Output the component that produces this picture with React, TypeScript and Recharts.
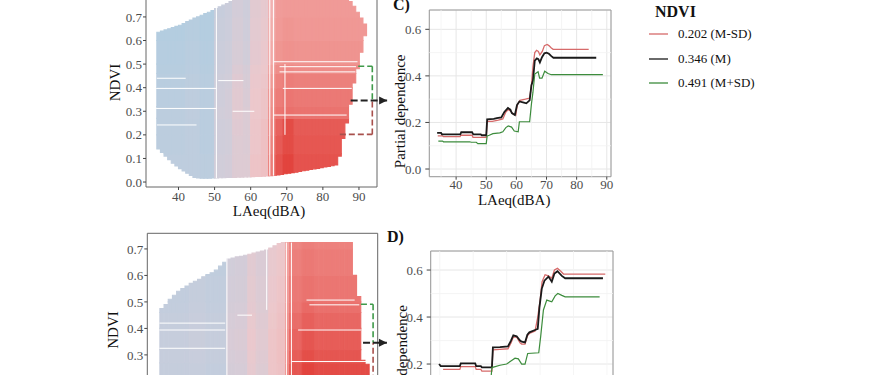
import {
  ComposedChart,
  Bar,
  Cell,
  Line,
  XAxis,
  YAxis,
  CartesianGrid,
  ReferenceLine,
  ReferenceArea,
  ReferenceDot,
  Legend,
  Label,
} from 'recharts'

const FONT = '"Liberation Serif", "Times New Roman", serif'

// NDVI levels used for the three partial dependence curves
const ndviLevels = [0.202, 0.346, 0.491]
const levelNames = ['0.202 (M-SD)', '0.346 (M)', '0.491 (M+SD)']
const levelColors = ['#d66a6a', '#1a1a1a', '#3c8c3c']

// ---------- upper 2D partial dependence map ----------
const colsA = [34, 35, 36, 37, 38, 39, 40, 41, 42, 43, 44, 45, 46, 47, 48, 49, 50, 51, 52, 53, 54, 55, 56, 57, 58, 59, 60, 61, 62, 63, 64, 65, 66, 67, 68, 69, 70, 71, 72, 73, 74, 75, 76, 77, 78, 79, 80, 81, 82, 83, 84, 85, 86, 87, 88, 89, 90, 91]
const yminA = [0.14, 0.125, 0.11, 0.095, 0.08, 0.068, 0.057, 0.047, 0.037, 0.028, 0.02, 0.017, 0.016, 0.016, 0.016, 0.017, 0.017, 0.018, 0.018, 0.019, 0.02, 0.02, 0.021, 0.021, 0.022, 0.022, 0.023, 0.024, 0.024, 0.025, 0.026, 0.027, 0.028, 0.03, 0.032, 0.035, 0.037, 0.04, 0.042, 0.045, 0.048, 0.05, 0.053, 0.056, 0.058, 0.061, 0.064, 0.066, 0.069, 0.072, 0.11, 0.185, 0.25, 0.33, 0.42, 0.48, 0.55, 0.62]
const ymaxA = [0.635, 0.64, 0.645, 0.65, 0.655, 0.66, 0.665, 0.672, 0.68, 0.687, 0.695, 0.7, 0.707, 0.714, 0.72, 0.727, 0.735, 0.743, 0.75, 0.757, 0.765, 0.772, 0.78, 0.787, 0.795, 0.8, 0.805, 0.81, 0.815, 0.818, 0.82, 0.82, 0.82, 0.82, 0.82, 0.82, 0.82, 0.82, 0.82, 0.82, 0.82, 0.82, 0.82, 0.82, 0.82, 0.82, 0.82, 0.815, 0.81, 0.805, 0.8, 0.79, 0.78, 0.765, 0.745, 0.72, 0.695, 0.67]
const laeqSegA = [34, 42, 46, 50.5, 53, 55.5, 58, 60.5, 63, 65.5, 67, 69, 72, 80, 92]
// rows: NDVI bands low -> high, columns: LAeq segments
const pdGridA = [
  [0.15, 0.15, 0.145, 0.21, 0.215, 0.24, 0.24, 0.29, 0.3, 0.46, 0.52, 0.54, 0.52, 0.52],
  [0.145, 0.15, 0.14, 0.205, 0.21, 0.24, 0.235, 0.285, 0.3, 0.45, 0.51, 0.53, 0.515, 0.515],
  [0.145, 0.15, 0.14, 0.205, 0.21, 0.245, 0.235, 0.285, 0.3, 0.44, 0.5, 0.53, 0.51, 0.51],
  [0.145, 0.155, 0.14, 0.21, 0.215, 0.25, 0.235, 0.28, 0.29, 0.43, 0.47, 0.48, 0.475, 0.475],
  [0.14, 0.15, 0.14, 0.205, 0.215, 0.25, 0.23, 0.28, 0.29, 0.42, 0.46, 0.47, 0.465, 0.465],
  [0.135, 0.145, 0.135, 0.2, 0.21, 0.245, 0.225, 0.275, 0.285, 0.4, 0.45, 0.46, 0.455, 0.455],
  [0.13, 0.14, 0.13, 0.195, 0.205, 0.235, 0.22, 0.27, 0.28, 0.38, 0.43, 0.44, 0.435, 0.435],
  [0.125, 0.135, 0.125, 0.19, 0.2, 0.225, 0.21, 0.26, 0.275, 0.36, 0.41, 0.42, 0.415, 0.415],
  [0.12, 0.13, 0.12, 0.185, 0.195, 0.22, 0.205, 0.255, 0.27, 0.35, 0.4, 0.41, 0.405, 0.405],
  [0.115, 0.125, 0.115, 0.18, 0.19, 0.215, 0.2, 0.25, 0.265, 0.34, 0.395, 0.4, 0.4, 0.4],
]
// white contour pieces [x1, y1, x2, y2]
const contoursA = [
  [50.5, 0.017, 50.5, 0.86], [65.3, 0.027, 65.3, 0.86], [66.3, 0.027, 66.3, 0.86],
  [33.8, 0.397, 50.5, 0.397], [33.8, 0.312, 50.5, 0.312], [34, 0.242, 45, 0.242],
  [34, 0.44, 42, 0.44], [66.3, 0.51, 89.6, 0.51], [68, 0.489, 89.2, 0.489],
  [68, 0.467, 89, 0.467], [68.9, 0.397, 88, 0.397], [66.3, 0.284, 86.6, 0.284],
  [51, 0.43, 58, 0.43], [55, 0.3, 61, 0.3], [69.5, 0.2, 69.5, 0.5],
]

// ---------- lower 2D partial dependence map ----------
const colsB = [35, 36, 37, 38, 39, 40, 41, 42, 43, 44, 45, 46, 47, 48, 49, 50, 51, 52, 53, 54, 55, 56, 57, 58, 59, 60, 61, 62, 63, 64, 65, 66, 67, 68, 69, 70, 71, 72, 73, 74, 75, 76, 77, 78, 79, 80, 81, 82, 83, 84]
const yminB = [0.2, 0.17, 0.15, 0.13, 0.115, 0.1, 0.09, 0.085, 0.08, 0.078, 0.076, 0.075, 0.075, 0.075, 0.075, 0.076, 0.077, 0.078, 0.079, 0.08, 0.081, 0.082, 0.083, 0.084, 0.085, 0.086, 0.088, 0.09, 0.092, 0.094, 0.096, 0.098, 0.1, 0.102, 0.104, 0.106, 0.108, 0.11, 0.112, 0.114, 0.116, 0.118, 0.12, 0.122, 0.124, 0.126, 0.13, 0.14, 0.15, 0.16]
const ymaxB = [0.475, 0.49, 0.51, 0.525, 0.54, 0.55, 0.56, 0.57, 0.578, 0.585, 0.595, 0.603, 0.61, 0.62, 0.635, 0.65, 0.662, 0.666, 0.67, 0.672, 0.676, 0.68, 0.684, 0.688, 0.692, 0.696, 0.703, 0.712, 0.72, 0.724, 0.724, 0.724, 0.724, 0.724, 0.724, 0.724, 0.724, 0.724, 0.724, 0.724, 0.724, 0.724, 0.724, 0.724, 0.724, 0.724, 0.6, 0.52, 0.28, 0.265]
const laeqSegB = [35, 42, 46, 51, 53.5, 56, 58.5, 61, 63.5, 65.5, 66.5, 69, 72, 78, 85]
const pdGridB = [
  [0.2, 0.205, 0.195, 0.25, 0.255, 0.3, 0.28, 0.33, 0.34, 0.5, 0.58, 0.6, 0.59, 0.59],
  [0.2, 0.205, 0.195, 0.25, 0.255, 0.3, 0.28, 0.33, 0.34, 0.5, 0.58, 0.6, 0.59, 0.59],
  [0.205, 0.21, 0.2, 0.255, 0.26, 0.305, 0.28, 0.33, 0.34, 0.49, 0.575, 0.6, 0.59, 0.59],
  [0.21, 0.215, 0.205, 0.26, 0.265, 0.31, 0.285, 0.33, 0.345, 0.48, 0.565, 0.585, 0.575, 0.575],
  [0.21, 0.22, 0.21, 0.265, 0.27, 0.315, 0.29, 0.33, 0.345, 0.47, 0.555, 0.575, 0.565, 0.565],
  [0.205, 0.215, 0.205, 0.26, 0.265, 0.31, 0.285, 0.325, 0.34, 0.46, 0.54, 0.56, 0.55, 0.55],
  [0.2, 0.21, 0.2, 0.255, 0.26, 0.3, 0.28, 0.32, 0.335, 0.45, 0.525, 0.545, 0.535, 0.535],
  [0.195, 0.205, 0.195, 0.25, 0.255, 0.295, 0.275, 0.315, 0.33, 0.44, 0.52, 0.53, 0.525, 0.525],
  [0.19, 0.2, 0.19, 0.245, 0.25, 0.29, 0.27, 0.31, 0.325, 0.43, 0.51, 0.52, 0.515, 0.515],
  [0.185, 0.195, 0.185, 0.24, 0.245, 0.285, 0.265, 0.305, 0.32, 0.42, 0.5, 0.51, 0.505, 0.505],
]
const contoursB = [
  [51, 0.1, 51, 0.665], [66.4, 0.1, 66.4, 0.724], [65.2, 0.1, 65.2, 0.724],
  [60.5, 0.47, 60.5, 0.7], [70.7, 0.489, 82.6, 0.489], [70, 0.507, 81.5, 0.507],
  [34.9, 0.42, 50.6, 0.42], [34.9, 0.394, 50.6, 0.394], [34.9, 0.325, 50.6, 0.325],
  [68, 0.394, 83, 0.394], [66.4, 0.275, 84.3, 0.275], [53.5, 0.45, 57, 0.45],
]

// NDVI band edges shared by both maps
const ndviBands = [0, 0.12, 0.2, 0.27, 0.32, 0.4, 0.46, 0.5, 0.6, 0.7, 0.9]

// ---------- panel C curves ----------
const cLowX = [33.9, 35.5, 35.8, 41.3, 41.6, 45.3, 45.6, 50.0, 50.3, 52.0, 54.0, 55.5, 56.5, 57.3, 58.0, 59.0, 59.8, 60.3, 61.2, 63.0, 64.4, 65.0, 65.5, 66.1, 66.7, 67.3, 67.8, 68.6, 69.3, 70.2, 70.8, 71.6, 72.2, 84.0]
const cLowPd = [0.142, 0.142, 0.139, 0.139, 0.145, 0.145, 0.136, 0.136, 0.205, 0.205, 0.21, 0.215, 0.245, 0.255, 0.25, 0.235, 0.232, 0.275, 0.295, 0.3, 0.305, 0.36, 0.44, 0.5, 0.51, 0.505, 0.49, 0.505, 0.53, 0.535, 0.53, 0.52, 0.514, 0.514]
const cMeanX = [33.7, 35.0, 35.3, 41.4, 41.7, 45.3, 45.7, 48.2, 48.5, 50.0, 50.3, 52.5, 53.5, 55.0, 56.0, 57.2, 58.0, 58.5, 59.5, 60.2, 61.0, 62.5, 63.3, 64.4, 65.0, 65.5, 66.1, 66.8, 67.3, 67.8, 68.5, 69.3, 70.0, 70.8, 71.6, 72.3, 86.5]
const cMeanPd = [0.155, 0.155, 0.149, 0.149, 0.158, 0.158, 0.149, 0.149, 0.145, 0.145, 0.213, 0.215, 0.219, 0.222, 0.245, 0.262, 0.255, 0.24, 0.232, 0.275, 0.29, 0.285, 0.282, 0.295, 0.36, 0.38, 0.465, 0.475, 0.472, 0.458, 0.48, 0.497, 0.5, 0.495, 0.485, 0.478, 0.478]
const cHighX = [34.1, 35.5, 35.8, 44.5, 45.0, 46.7, 47.2, 50.0, 50.3, 51.0, 52.2, 54.5, 55.5, 56.5, 57.3, 58.4, 59.3, 60.6, 61.0, 64.4, 65.0, 65.5, 66.1, 67.2, 67.7, 68.5, 69.4, 70.5, 71.6, 88.7]
const cHighPd = [0.12, 0.12, 0.117, 0.117, 0.115, 0.115, 0.109, 0.109, 0.142, 0.145, 0.152, 0.155, 0.16, 0.178, 0.185, 0.18, 0.163, 0.16, 0.203, 0.203, 0.28, 0.33, 0.408, 0.418, 0.39, 0.39, 0.42, 0.41, 0.405, 0.405]

// ---------- panel D curves ----------
const dLowX = [36.0, 41.0, 41.3, 45.6, 45.9, 47.3, 47.6, 50.6, 50.9, 53.0, 55.4, 56.3, 57.0, 58.0, 59.0, 59.5, 60.5, 61.2, 61.8, 63.5, 64.3, 65.0, 65.6, 66.5, 67.5, 68.5, 69.3, 70.2, 71.2, 72.0, 84.5]
const dLowPd = [0.177, 0.177, 0.189, 0.189, 0.177, 0.177, 0.17, 0.17, 0.26, 0.262, 0.265, 0.29, 0.315, 0.315, 0.29, 0.285, 0.285, 0.32, 0.33, 0.34, 0.4, 0.47, 0.55, 0.58, 0.575, 0.565, 0.6, 0.607, 0.595, 0.583, 0.583]
const dMeanX = [34.8, 35.3, 41.0, 41.3, 45.6, 45.9, 47.3, 47.6, 50.6, 50.9, 53.0, 55.4, 56.3, 57.0, 58.0, 59.0, 59.5, 60.5, 61.2, 61.8, 63.5, 64.3, 64.8, 65.5, 66.3, 67.5, 68.5, 69.3, 70.2, 71.5, 72.5, 83.8]
const dMeanPd = [0.2, 0.191, 0.191, 0.203, 0.203, 0.191, 0.191, 0.186, 0.186, 0.271, 0.272, 0.275, 0.3, 0.322, 0.318, 0.3, 0.295, 0.292, 0.325, 0.335, 0.345, 0.35, 0.44, 0.52, 0.555, 0.572, 0.55, 0.585, 0.595, 0.575, 0.565, 0.565]
const dHighX = [35.5, 41.0, 41.3, 46.0, 46.3, 50.3, 50.6, 53.0, 55.0, 56.5, 57.5, 58.5, 59.5, 60.5, 61.3, 64.6, 65.2, 66.0, 67.0, 68.5, 69.5, 70.3, 71.5, 72.5, 82.8]
const dHighPd = [0.14, 0.14, 0.145, 0.145, 0.135, 0.135, 0.185, 0.195, 0.2, 0.215, 0.225, 0.222, 0.2, 0.2, 0.245, 0.248, 0.32, 0.43, 0.472, 0.465, 0.49, 0.5, 0.492, 0.486, 0.486]

const laeqTicks = [40, 50, 60, 70, 80, 90]
const laeqMinor = [35, 45, 55, 65, 75, 85]
const pdMinor = [0.1, 0.3, 0.5]

// colour ramp (blue - white - red), positions 0..1
const rampStops = [0, 0.2, 0.38, 0.57, 0.76, 0.9, 1]
const rampColors = ['#b4cde0', '#cfcdda', '#ecc8cc', '#f2aaa8', '#ee8a86', '#e86460', '#e2443e']

function hexRgb(h: string) {
  return [1, 3, 5].map((i) => parseInt(h.slice(i, i + 2), 16))
}

function pdColor(v: number, range: number[]) {
  const t = Math.min(1, Math.max(0, (v - range[0]) / (range[1] - range[0])))
  let j = 0
  while (j < rampStops.length - 2 && t > rampStops[j + 1]) j++
  const f = (t - rampStops[j]) / (rampStops[j + 1] - rampStops[j])
  const a = hexRgb(rampColors[j])
  const b = hexRgb(rampColors[j + 1])
  const c = a.map((x, i) => Math.round(x + (b[i] - x) * f))
  return `rgb(${c[0]},${c[1]},${c[2]})`
}

function buildHeat(cols: number[], ymin: number[], ymax: number[], segs: number[], grid: number[][], range: number[], from: number, to: number) {
  const rows: Record<string, any>[] = []
  for (let c = from; c < to; c++) {
    const i = cols.indexOf(c)
    const row: Record<string, any> = { col: c, base: i >= 0 ? ymin[i] : 0 }
    const mid = c + 0.5
    let s = 0
    while (s < segs.length - 2 && mid >= segs[s + 1]) s++
    for (let k = 0; k < ndviBands.length - 1; k++) {
      const lo = i >= 0 ? Math.max(ymin[i], ndviBands[k]) : 0
      const hi = i >= 0 ? Math.min(ymax[i], ndviBands[k + 1]) : 0
      const h = Math.max(0, hi - lo)
      row[`b${k}`] = h
      row[`c${k}`] = h > 0 ? pdColor(grid[k][s], range) : 'none'
    }
    rows.push(row)
  }
  return rows
}

const zip = (xs: number[], ys: number[]) => xs.map((x, i) => ({ x, pd: ys[i] }))

const tickStyle = { fontSize: 13, fontFamily: FONT, fill: '#4d4d4d' }

const xTitle = (dx: number, base: number) => (props: any) => {
  const vb = props.viewBox
  return (
    <text x={vb.x + vb.width / 2 + dx} y={vb.y + base} textAnchor="middle" fontFamily={FONT} fontSize={15} fill="#111">
      LAeq(dBA)
    </text>
  )
}

const yTitle = (text: string, dx: number, dy: number) => (props: any) => {
  const vb = props.viewBox
  const cx = vb.x + dx
  const cy = vb.y + vb.height / 2 + dy
  return (
    <text x={cx} y={cy} transform={`rotate(-90 ${cx} ${cy})`} textAnchor="middle" dominantBaseline="central" fontFamily={FONT} fontSize={15} fill="#111">
      {text}
    </text>
  )
}

const arrowHead = (props: any) => {
  const { cx, cy } = props
  return <path d={`M${cx - 8},${cy - 4} L${cx},${cy} L${cx - 8},${cy + 4} Z`} fill="#222" />
}

type Bracket = { red: number; mean: number; green: number; right: number; tip: number }

type HeatProps = {
  top: number
  height: number
  margin: { top: number; right: number; bottom: number; left: number }
  table: Record<string, any>[]
  xDomain: [number, number]
  yDomain: [number, number]
  xTicks: number[]
  yTicks: number[]
  contours: number[][]
  bracket: Bracket
  xTitleDx: number
  yTitleDx: number
  showX: boolean
}

function Heatmap(p: HeatProps) {
  const [l0, l1, l2] = ndviLevels
  const b = p.bracket
  const dashed = [
    { pts: [[b.green, l2], [b.right, l2]], c: '#3f9a4a' },
    { pts: [[b.right, l2], [b.right, l1]], c: '#3f9a4a' },
    { pts: [[b.red, l0], [b.right, l0]], c: '#a8504c' },
    { pts: [[b.right, l0], [b.right, l1]], c: '#a8504c' },
  ]
  return (
    <div style={{ position: 'absolute', left: 0, top: p.top }}>
      <ComposedChart width={881} height={p.height} data={p.table} margin={p.margin} barCategoryGap={0} barGap={0}>
        <XAxis xAxisId="cat" dataKey="col" type="category" hide height={0} />
        <XAxis
          xAxisId="num"
          dataKey="col"
          type="number"
          domain={p.xDomain}
          allowDataOverflow
          ticks={p.xTicks}
          tick={p.showX ? tickStyle : false}
          tickSize={3}
          tickMargin={2}
          tickLine={p.showX ? { stroke: '#444' } : false}
          axisLine={false}
          height={29}
        >
          {p.showX && <Label content={xTitle(p.xTitleDx, 28.5)} />}
        </XAxis>
        <YAxis
          type="number"
          domain={p.yDomain}
          allowDataOverflow
          ticks={p.yTicks}
          tickFormatter={(v: number) => v.toFixed(1)}
          tick={tickStyle}
          tickSize={3}
          tickMargin={1}
          tickLine={{ stroke: '#444' }}
          axisLine={false}
          width={40}
        >
          <Label content={yTitle('NDVI', p.yTitleDx, 0)} />
        </YAxis>
        <Bar xAxisId="cat" dataKey="base" stackId="h" fill="none" isAnimationActive={false} />
        {ndviBands.slice(0, -1).map((_, k) => (
          <Bar key={k} xAxisId="cat" dataKey={`b${k}`} stackId="h" isAnimationActive={false}>
            {p.table.map((r, j) => (
              <Cell key={j} fill={r[`c${k}`]} stroke={r[`c${k}`]} strokeWidth={1.1} />
            ))}
          </Bar>
        ))}
        {p.contours.map((s, i) => (
          <ReferenceLine
            key={`ct${i}`}
            xAxisId="num"
            segment={[{ x: s[0], y: s[1] }, { x: s[2], y: s[3] }]}
            stroke="#ffffff"
            strokeWidth={1}
            ifOverflow="hidden"
          />
        ))}
        <ReferenceArea
          xAxisId="num"
          x1={p.xDomain[0]}
          x2={p.xDomain[1]}
          y1={p.yDomain[0]}
          y2={p.yDomain[1]}
          fill="none"
          stroke="#666"
          strokeWidth={1}
          ifOverflow="visible"
        />
        {dashed.map((d, i) => (
          <ReferenceLine
            key={`br${i}`}
            xAxisId="num"
            segment={[{ x: d.pts[0][0], y: d.pts[0][1] }, { x: d.pts[1][0], y: d.pts[1][1] }]}
            stroke={d.c}
            strokeWidth={1.6}
            strokeDasharray="6 3"
            ifOverflow="visible"
          />
        ))}
        <ReferenceLine
          xAxisId="num"
          segment={[{ x: b.mean, y: l1 }, { x: b.tip, y: l1 }]}
          stroke="#222"
          strokeWidth={2}
          strokeDasharray="7 3"
          ifOverflow="visible"
        />
        <ReferenceDot xAxisId="num" x={b.tip} y={l1} ifOverflow="visible" shape={arrowHead} />
      </ComposedChart>
    </div>
  )
}

const legendContent = ({ payload }: any) => (
  <div style={{ position: 'relative', width: 160, height: 100, fontFamily: FONT, color: '#111' }}>
    <div style={{ position: 'absolute', left: 6, top: 2, fontWeight: 'bold', fontSize: 16, lineHeight: '20px' }}>NDVI</div>
    {(payload || []).map((it: any, i: number) => (
      <div
        key={i}
        style={{ position: 'absolute', left: 0, top: 24.3 + i * 24.5, height: 20, display: 'flex', alignItems: 'center', whiteSpace: 'nowrap' }}
      >
        <svg width={20} height={20}>
          <line x1={0} x2={19} y1={10} y2={10} stroke={it.color} strokeWidth={1.3} />
        </svg>
        <span style={{ marginLeft: 9, fontSize: 13 }}>{it.value}</span>
      </div>
    ))}
  </div>
)

type PdProps = {
  height: number
  margin: { top: number; right: number; bottom: number; left: number }
  xDomain: [number, number]
  yDomain: [number, number]
  xTicks: number[]
  yTicks: number[]
  series: { x: number; pd: number }[][]
  yTitleDx: number
  yTitleDy: number
  xTitleDx: number
  showX: boolean
  legend?: boolean
}

function PdPanel(p: PdProps) {
  const widths = [1.3, 1.8, 1.2]
  return (
    <div style={{ position: 'absolute', left: 0, top: 0 }}>
      <ComposedChart width={881} height={p.height} margin={p.margin}>
        <CartesianGrid stroke="#e6e6e6" strokeWidth={1} />
        <XAxis
          dataKey="x"
          type="number"
          domain={p.xDomain}
          allowDataOverflow
          ticks={p.xTicks}
          tick={p.showX ? tickStyle : false}
          tickSize={3}
          tickMargin={0.5}
          tickLine={p.showX ? { stroke: '#444' } : false}
          axisLine={false}
          height={30}
        >
          {p.showX && <Label content={xTitle(p.xTitleDx, 28.3)} />}
        </XAxis>
        <YAxis
          type="number"
          domain={p.yDomain}
          allowDataOverflow
          ticks={p.yTicks}
          tickFormatter={(v: number) => v.toFixed(1)}
          tick={tickStyle}
          tickSize={4}
          tickMargin={4}
          tickLine={{ stroke: '#444' }}
          axisLine={false}
          width={40}
        >
          <Label content={yTitle('Partial dependence', p.yTitleDx, p.yTitleDy)} />
        </YAxis>
        {laeqMinor.map((v) => (
          <ReferenceLine key={`mx${v}`} x={v} stroke="#f2f2f2" strokeWidth={0.8} />
        ))}
        {pdMinor.map((v) => (
          <ReferenceLine key={`my${v}`} y={v} stroke="#f2f2f2" strokeWidth={0.8} />
        ))}
        <ReferenceArea
          x1={p.xDomain[0]}
          x2={p.xDomain[1]}
          y1={p.yDomain[0]}
          y2={p.yDomain[1]}
          fill="none"
          stroke="#9a9a9a"
          strokeWidth={1}
          ifOverflow="visible"
        />
        {p.series.map((d, i) => (
          <Line
            key={levelNames[i]}
            data={d}
            dataKey="pd"
            name={levelNames[i]}
            type="linear"
            stroke={levelColors[i]}
            strokeWidth={widths[i]}
            dot={false}
            isAnimationActive={false}
          />
        ))}
        {p.legend && (
          <Legend
            layout="vertical"
            align="center"
            verticalAlign="middle"
            content={legendContent}
            wrapperStyle={{ left: 649, top: 0, right: 'auto', bottom: 'auto' }}
          />
        )}
      </ComposedChart>
    </div>
  )
}

const tagStyle = (left: number, top: number): any => ({
  position: 'absolute',
  left,
  top,
  fontFamily: FONT,
  fontWeight: 'bold',
  fontSize: 16,
  lineHeight: '16px',
  color: '#111',
})

export default function App() {
  const heatA = buildHeat(colsA, yminA, ymaxA, laeqSegA, pdGridA, [0.12, 0.54], 31, 95)
  const heatB = buildHeat(colsB, yminB, ymaxB, laeqSegB, pdGridB, [0.15, 0.6], 32, 87)
  return (
    <div style={{ position: 'absolute', left: 0, top: 0, width: 881, height: 375, overflow: 'hidden', background: '#fff' }}>
      <Heatmap
        top={-40}
        height={300}
        margin={{ top: 18, right: 504, bottom: 44, left: 106 }}
        table={heatA}
        xDomain={[31, 95]}
        yDomain={[-0.021, 0.865]}
        xTicks={laeqTicks}
        yTicks={[0, 0.1, 0.2, 0.3, 0.4, 0.5, 0.6, 0.7]}
        contours={contoursA}
        bracket={{ red: 84.7, mean: 87.7, green: 89.8, right: 93.7, tip: 97.8 }}
        xTitleDx={7.5}
        yTitleDx={9}
        showX
      />
      <Heatmap
        top={0}
        height={500}
        margin={{ top: 233.3, right: 503.3, bottom: 44.3, left: 107.3 }}
        table={heatB}
        xDomain={[32, 87]}
        yDomain={[0.029, 0.759]}
        xTicks={[40, 50, 60, 70, 80]}
        yTicks={[0.3, 0.4, 0.5, 0.6, 0.7]}
        contours={contoursB}
        bracket={{ red: 84.7, mean: 83.5, green: 83.0, right: 85.9, tip: 89.2 }}
        xTitleDx={0}
        yTitleDx={6}
        showX={false}
      />
      <PdPanel
        height={375}
        margin={{ top: 10, right: 270, bottom: 168.3, left: 389.3 }}
        xDomain={[31.1, 91.4]}
        yDomain={[-0.033, 0.683]}
        xTicks={laeqTicks}
        yTicks={[0, 0.2, 0.4, 0.6]}
        series={[zip(cLowX, cLowPd), zip(cMeanX, cMeanPd), zip(cHighX, cHighPd)]}
        yTitleDx={10.7}
        yTitleDy={18}
        xTitleDx={-6}
        showX
        legend
      />
      <PdPanel
        height={500}
        margin={{ top: 251, right: 268, bottom: 51.2, left: 390.7 }}
        xDomain={[32.3, 86.8]}
        yDomain={[-0.033, 0.681]}
        xTicks={[40, 50, 60, 70, 80]}
        yTicks={[0.2, 0.4, 0.6]}
        series={[zip(dLowX, dLowPd), zip(dMeanX, dMeanPd), zip(dHighX, dHighPd)]}
        yTitleDx={11.3}
        yTitleDy={27}
        xTitleDx={0}
        showX={false}
      />
      <div style={tagStyle(393, -3.4)}>C)</div>
      <div style={tagStyle(387, 229.3)}>D)</div>
    </div>
  )
}
